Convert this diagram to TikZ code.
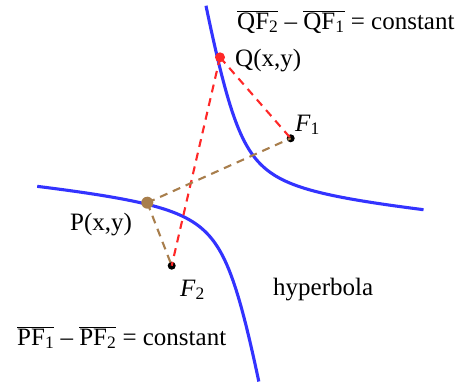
\documentclass[tikz,border=0pt]{standalone}
\usepackage{fontspec}
\setmainfont{Liberation Serif}
\usepackage{xcolor}
\usetikzlibrary{arrows.meta, positioning, calc}

\definecolor{hypblue}{RGB}{51,51,255}
\definecolor{qred}{RGB}{255,40,40}
\definecolor{pbrown}{RGB}{168,126,76}

\newcommand{\seg}[2]{\ensuremath{\overline{\mbox{#1\textsubscript{#2}}}}}

\begin{document}
\begin{tikzpicture}[
    x=1pt, y=-1pt,
    curve/.style={draw=hypblue, line width=3.1pt},
    qline/.style={draw=qred, line width=2.1pt, dash pattern=on 8pt off 6pt},
    pline/.style={draw=pbrown, line width=2.1pt, dash pattern=on 8pt off 6pt},
    focus/.style={circle, fill=black, inner sep=0pt, minimum size=8pt},
    lbl/.style={anchor=base west, inner sep=0pt, font=\fontsize{25}{30}\selectfont},
]
\useasboundingbox (0,0) rectangle (473,383);

% Hyperbola branches (centre (233.4,198.4), a=43.5, b=57)
\draw[curve] plot[domain=-1.70:1.68, samples=80, smooth]
    ({233.4 + 43.5*cosh(\x)*0.678 + 57*sinh(\x)*0.735},
     {198.4 - 43.5*cosh(\x)*0.735 + 57*sinh(\x)*0.678});
\draw[curve] plot[domain=-1.71:1.65, samples=80, smooth]
    ({233.4 - 43.5*cosh(\x)*0.678 + 57*sinh(\x)*0.735},
     {198.4 + 43.5*cosh(\x)*0.735 + 57*sinh(\x)*0.678});

% Foci
\node[focus] (F1) at (290.7,138.3) {};
\node[focus] (F2) at (171.7,265.7) {};

% Points on the curve
\coordinate (Q) at (220,57.3);
\coordinate (P) at (147.3,202.7);

% Distances to the foci
\draw[qline] (Q) -- (F1.center);
\draw[qline] (Q) -- (F2.center);
\draw[pline] (P) -- (F1.center);
\draw[pline] (P) -- (F2.center);

% Point markers
\node[circle, fill=qred, inner sep=0pt, minimum size=10pt] (Qdot) at (Q) {};
\node[circle, fill=pbrown, inner sep=0pt, minimum size=12pt] (Pdot) at (P) {};

% Labels
\node[lbl] (qlbl) at (235,66) {Q(x,y)};
\node[lbl] (plbl) at (70,230) {P(x,y)};
\node[lbl] (f1lbl) at (295,131) {\textit{F}\textsubscript{1}};
\node[lbl] (f2lbl) at (180,296) {\textit{F}\textsubscript{2}};
\node[lbl] (hyplbl) at (273,295) {hyperbola};

% Equations
\node[lbl] (qeq) at (237,29) {\seg{QF}{2} -- \seg{QF}{1} = constant};
\node[lbl] (peq) at (17,345) {\seg{PF}{1} -- \seg{PF}{2} = constant};

\end{tikzpicture}
\end{document}
